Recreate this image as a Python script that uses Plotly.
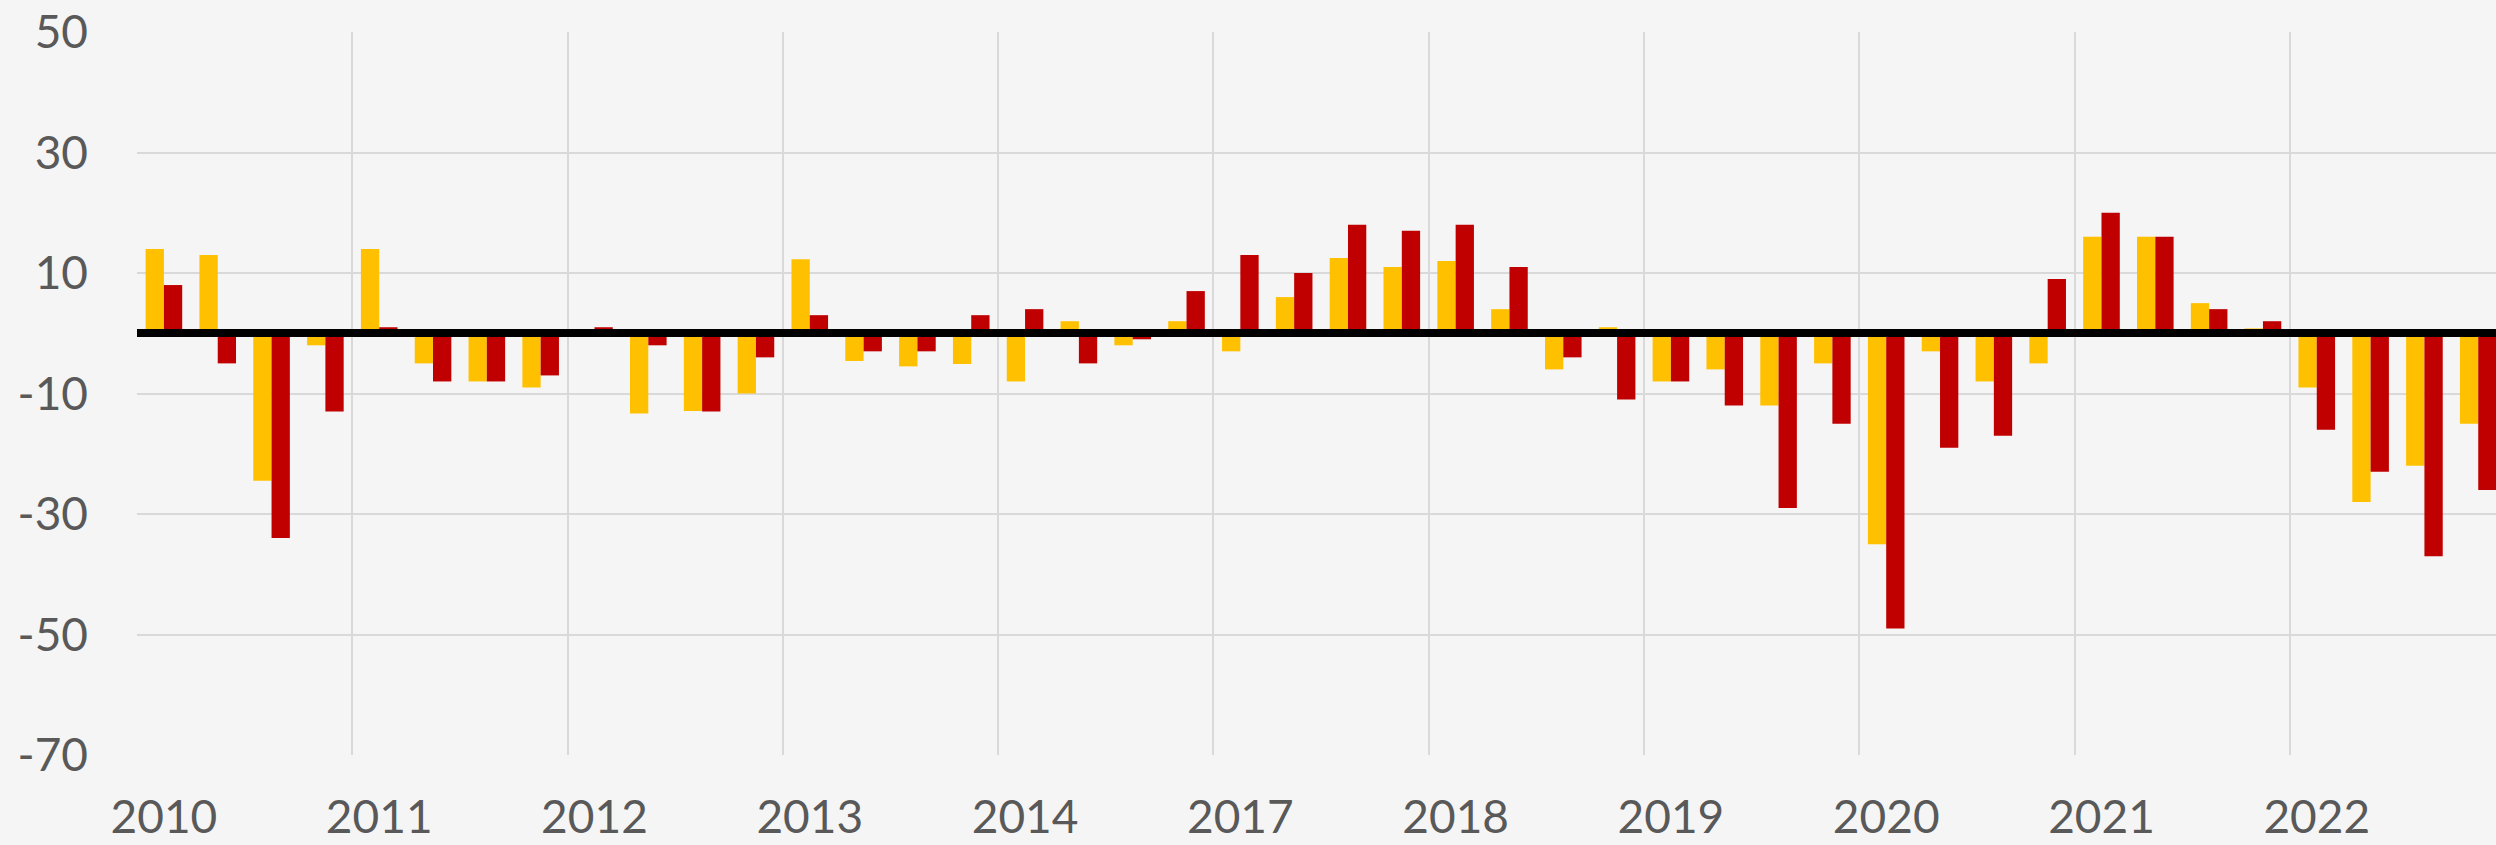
import plotly.graph_objects as go

years = ["2010", "2011", "2012", "2013", "2014", "2017", "2018", "2019", "2020", "2021", "2022"]
quarters = ["Q1", "Q2", "Q3", "Q4"]

# series values, quarterly
series_yellow = [
    14, 13, -24.5, -2,        # 2010
    14, -5, -8, -9,           # 2011
    0, -13.3, -12.9, -10,     # 2012
    12.3, -4.6, -5.5, -5.1,   # 2013
    -8, 2, -2, 2,             # 2014
    -3, 6, 12.5, 11,          # 2017
    12, 4, -6, 1,             # 2018
    -8, -6, -12, -5,          # 2019
    -35, -3, -8, -5,          # 2020
    16, 16, 5, 0.8,           # 2021
    -9, -28, -22, -15,        # 2022
]
series_red = [
    8, -5, -34, -13,          # 2010
    1, -8, -8, -7,            # 2011
    1, -2, -13, -4,           # 2012
    3, -3, -3, 3,             # 2013
    4, -5, -1, 7,             # 2014
    13, 10, 18, 17,           # 2017
    18, 11, -4, -11,          # 2018
    -8, -12, -29, -15,        # 2019
    -49, -19, -17, 9,         # 2020
    20, 16, 4, 2,             # 2021
    -16, -23, -37, -26,       # 2022
]

y_ticks = [50, 30, 10, -10, -30, -50, -70]
y_ticktext = ["50", "30", "10", "-10", "-30", "-50", "-70"]

n_q = len(quarters)
x_pos = list(range(len(years) * n_q))
labels = [f"{y} {q}" for y in years for q in quarters]
year_tickvals = [i * n_q for i in range(len(years))]
year_bounds = [i * n_q - 0.5 for i in range(len(years) + 1)]

YELLOW = "#FFC000"
RED = "#C00000"
BG = "#F5F5F5"
GRID = "#D9D9D9"
TEXT = "#595959"
FONT = "Lato"

fig = go.Figure()
fig.add_trace(go.Bar(x=x_pos, y=series_yellow, customdata=labels, name="A",
                     marker=dict(color=YELLOW, line=dict(width=0)),
                     hovertemplate="%{customdata}: %{y}<extra></extra>"))
fig.add_trace(go.Bar(x=x_pos, y=series_red, customdata=labels, name="B",
                     marker=dict(color=RED, line=dict(width=0)),
                     hovertemplate="%{customdata}: %{y}<extra></extra>"))

fig.update_layout(
    width=2496, height=845,
    margin=dict(l=137, r=0, t=32, b=90, pad=0),
    paper_bgcolor=BG, plot_bgcolor=BG,
    barmode="group", bargap=0.32, bargroupgap=0,
    showlegend=False,
    font=dict(family=FONT, color=TEXT, size=46),
)

fig.update_xaxes(
    range=[-0.5, 43.33],
    automargin=False,
    tickmode="array", tickvals=year_tickvals, ticktext=years,
    showgrid=False, zeroline=False, showline=False, ticks="",
    tickfont=dict(family=FONT, size=46, color=TEXT),
    ticklabelstandoff=31,
    minor=dict(tickmode="array", tickvals=year_bounds, showgrid=True,
               gridcolor=GRID, gridwidth=2, ticks=""),
)
fig.update_yaxes(
    range=[-70, 50],
    automargin=False,
    tickmode="array", tickvals=y_ticks, ticktext=y_ticktext,
    showgrid=True, gridcolor=GRID, gridwidth=2,
    zeroline=True, zerolinecolor="#000000", zerolinewidth=8,
    zerolinelayer="above traces",
    showline=False, ticks="",
    tickfont=dict(family=FONT, size=46, color=TEXT),
    ticklabelstandoff=48,
)

fig.write_html(
    "out.html",
    config={"displayModeBar": False},
    post_script="document.body.style.margin='0';document.body.style.overflow='hidden';"
                "document.body.style.background='" + BG + "';",
)
